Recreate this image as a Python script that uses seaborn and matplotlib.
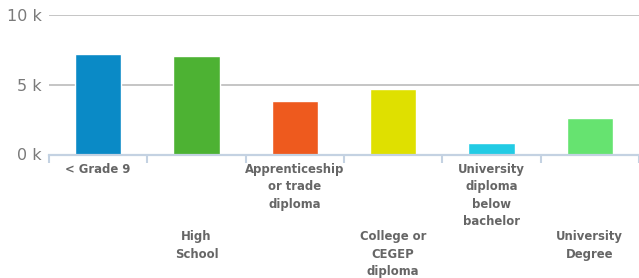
import matplotlib
matplotlib.use("Agg")
import matplotlib.pyplot as plt
import seaborn as sns
import pandas as pd
from matplotlib.ticker import FixedLocator, FuncFormatter

categories = ["< Grade 9", "High\nSchool", "Apprenticeship\nor trade\ndiploma",
              "College or\nCEGEP\ndiploma", "University\ndiploma\nbelow\nbachelor",
              "University\nDegree"]
values = [7170, 7090, 3870, 4720, 800, 2600]
colors = ["#0a8ac6", "#4db233", "#ee5a1e", "#dfe000", "#22cbe4", "#66e370"]
yticks = [0, 5000, 10000]

sns.set_theme(style="white")
plt.rcParams["font.family"] = ["DejaVu Sans"]

df = pd.DataFrame({"cat": categories, "val": values})

fig = plt.figure(figsize=(6.39, 2.78), dpi=100)
ax = fig.add_axes([49/639, 1 - 154.5/278, 590/639, (154.5 - 15)/278])

sns.barplot(data=df, x="cat", y="val", hue="cat", palette=colors, legend=False,
            width=0.47, edgecolor="white", linewidth=1, saturation=1, ax=ax, zorder=3)

ax.set_xlim(-0.5, len(categories) - 0.5)
ax.set_ylim(0, 10000)
ax.set_xlabel("")
ax.set_ylabel("")

for s in ["top", "right", "left"]:
    ax.spines[s].set_visible(False)
ax.spines["bottom"].set_color("#c4d2e2")
ax.spines["bottom"].set_linewidth(1.6)
ax.spines["bottom"].set_zorder(4)

ax.yaxis.set_major_locator(FixedLocator(yticks))
ax.yaxis.set_major_formatter(FuncFormatter(lambda v, p: f"{int(v/1000)} k"))
ax.tick_params(axis="y", length=0, labelsize=11.5, labelcolor="#7a7a7a", pad=5)
ax.grid(axis="y", color="#c0c0c0", linewidth=1.3, zorder=0)
ax.set_axisbelow(True)

ax.set_xticks(range(len(categories)))
ax.set_xticklabels(categories, fontsize=8.4, fontweight="bold", color="#666666",
                   linespacing=1.45, va="top")
ax.set_xticks([i - 0.5 for i in range(len(categories) + 1)], minor=True)
ax.tick_params(axis="x", which="major", length=0, pad=6, bottom=True)
ax.tick_params(axis="x", which="minor", length=6, width=1.5, color="#c4d2e2",
               direction="out", bottom=True)
for i, t in enumerate(ax.xaxis.get_major_ticks()):
    if i % 2 == 1:
        t.set_pad(54.5)

fig.savefig("out.png", dpi=100, facecolor="white")
